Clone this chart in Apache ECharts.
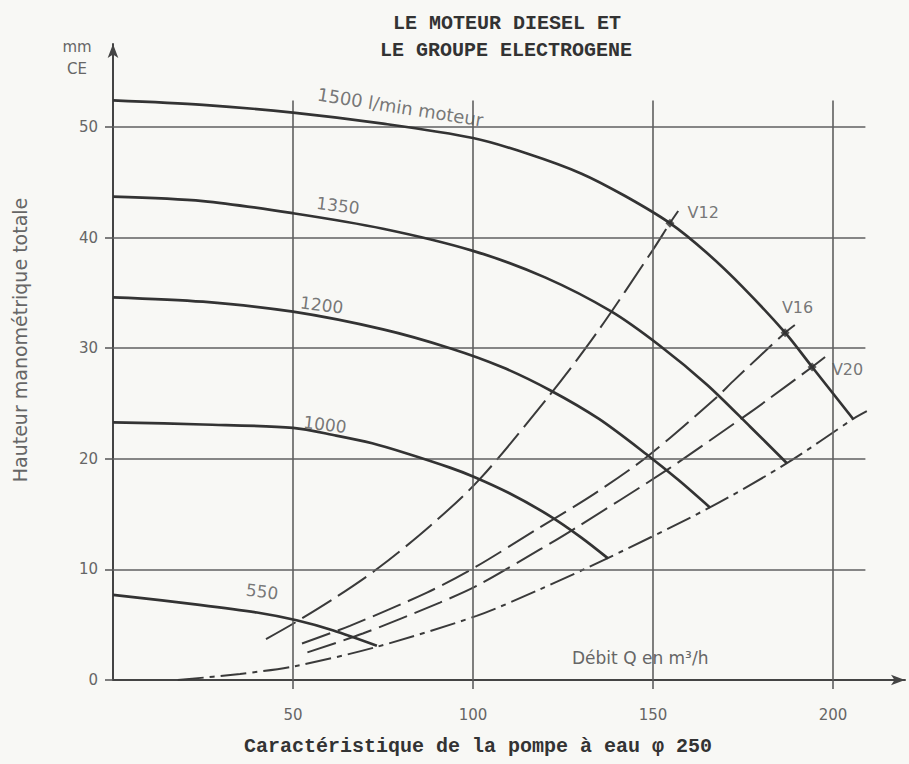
<!DOCTYPE html>
<html><head><meta charset="utf-8">
<script src="https://cdn.jsdelivr.net/npm/echarts@6/dist/echarts.min.js"></script>
<style>html,body{margin:0;padding:0;background:#f8f8f5;}#c{width:909px;height:764px;}</style>
</head><body><div id="c"></div>
<script>
// ---- data ----
const xTicks = [50, 100, 150, 200];
const yTicks = [0, 10, 20, 30, 40, 50];
const speedNames = ['1500 l/min moteur', '1350', '1200', '1000', '550'];
const h1500 = [[0,52.4],[25,52.0],[50,51.3],[75,50.3],[100,49.0],[115,47.6],[130,45.8],[142,43.8],[154.7,41.3],[165,38.6],[175,35.5],[186.7,31.4],[194.2,28.3],[205.6,23.6]];
const h1350 = [[0,43.7],[25,43.3],[50,42.2],[75,40.8],[100,38.8],[120,36.4],[138.5,33.3],[152,30.2],[165,26.7],[177,22.9],[187.2,19.6]];
const h1200 = [[0,34.6],[25,34.2],[50,33.3],[75,31.7],[93.6,30.0],[108,28.3],[121.4,26.2],[135,23.6],[148.6,20.3],[157,18.1],[165.8,15.6]];
const h1000 = [[0,23.3],[25,23.1],[50,22.8],[62,22.1],[72,21.4],[81.4,20.5],[93.6,19.2],[100,18.4],[110,16.9],[121.5,14.8],[130,12.9],[137.5,11.0]];
const h550  = [[0,7.7],[24,6.8],[40,6.1],[51,5.4],[61,4.5],[73.3,3.1]];
const vNames = ['V12', 'V16', 'V20'];
const v12 = [[42.5,3.7],[50.6,5.2],[62,7.5],[73.6,10.1],[88,13.9],[102,18.2],[121.4,25.8],[134.4,31.4],[150,38.9],[154.7,41.3],[157,42.4]];
const v16 = [[52.5,3.3],[65.8,4.9],[87.2,7.9],[100.6,10.2],[118.6,13.8],[134,16.9],[148.8,20.3],[167.8,25.6],[172.2,27.0],[186.7,31.4],[189.4,32.1]];
const v20 = [[54,2.5],[69.4,4.2],[90.8,7.0],[101,8.5],[118.6,11.8],[127.8,13.6],[153.9,19.0],[177,24.2],[181.7,25.3],[194.2,28.3],[197.8,29.2]];
const envelope = [[18,0],[35.3,0.55],[50.5,1.25],[73.3,3.0],[101,5.8],[118.6,8.2],[137.3,11.0],[165.8,15.6],[187.2,19.6],[205.6,23.6],[209.4,24.3]];
const vPoints = [[154.7,41.3],[186.7,31.4],[194.2,28.3]];

// ---- layout / style ----
const GX_END = 209, GY_END = 52.4;
const curveColor = '#333';
const sans = 'DejaVu Sans';

const speedSeries = [h1500, h1350, h1200, h1000, h550].map((d, i) => ({
  type: 'line', name: speedNames[i], data: d, smooth: 0.3, symbol: 'none',
  lineStyle: { color: curveColor, width: 2.7 }, z: 5, silent: true
}));
const vDash = [[34,8],[30,8],[30,8]];
const vSeries = [v12, v16, v20].map((d, i) => ({
  type: 'line', name: vNames[i], data: d, smooth: 0.3, symbol: 'none',
  lineStyle: { color: '#3a3a3a', width: 2, type: vDash[i] }, z: 4, silent: true
}));
const labelAnchors = [[79.8,51.8],[62.5,42.9],[58,33.9],[58.9,23.1],[41.4,8.0]];
const labelRot = [-9, -7, -7, -7, -7];
const vLabelAnchors = [[159.6,42.3],[185.8,33.7],[199.7,28.1]];

const option = {
  backgroundColor: '#f8f8f5',
  animation: false,
  grid: { left: 113, right: 4, top: 44, bottom: 84 },
  xAxis: {
    type: 'value', min: 0, max: 220,
    axisLine: { show: true, onZero: true, symbol: ['none','arrow'], symbolSize: [8,14], lineStyle: { color: '#444', width: 2 } },
    axisTick: { show: true, customValues: xTicks, length: 9, lineStyle: { color: '#555', width: 1.5 } },
    axisLabel: { customValues: xTicks, margin: 27, fontSize: 15, color: '#666', fontFamily: sans },
    splitLine: { show: false }
  },
  yAxis: {
    type: 'value', min: 0, max: 57.5,
    axisLine: { show: true, symbol: ['none','arrow'], symbolSize: [8,14], lineStyle: { color: '#444', width: 2 } },
    axisTick: { show: true, customValues: yTicks, length: 8, lineStyle: { color: '#555', width: 1.5 } },
    axisLabel: { customValues: yTicks, margin: 15, fontSize: 15, color: '#666', fontFamily: sans },
    splitLine: { show: false }
  },
  graphic: [
    { type: 'text', x: 507, y: 23, style: { text: 'LE MOTEUR DIESEL ET', font: 'bold 20px "Liberation Mono"', fill: '#333', textAlign: 'center', textVerticalAlign: 'middle' } },
    { type: 'text', x: 506, y: 50, style: { text: 'LE GROUPE ELECTROGENE', font: 'bold 20px "Liberation Mono"', fill: '#333', textAlign: 'center', textVerticalAlign: 'middle' } },
    { type: 'text', x: 478, y: 746, style: { text: 'Caractéristique de la pompe à eau φ 250', font: 'bold 20px "Liberation Mono"', fill: '#333', textAlign: 'center', textVerticalAlign: 'middle' } },
    { type: 'text', x: 77, y: 47, style: { text: 'mm', font: '15px "DejaVu Sans"', fill: '#666', textAlign: 'center', textVerticalAlign: 'middle' } },
    { type: 'text', x: 77, y: 69, style: { text: 'CE', font: '15px "DejaVu Sans"', fill: '#666', textAlign: 'center', textVerticalAlign: 'middle' } },
    { type: 'text', x: 20, y: 340, rotation: Math.PI / 2, style: { text: 'Hauteur manométrique totale', font: '19px "DejaVu Sans"', fill: '#666', textAlign: 'center', textVerticalAlign: 'middle' } },
    { type: 'text', x: 572, y: 658, style: { text: 'Débit Q en m³/h', font: '17px "DejaVu Sans"', fill: '#666', textAlign: 'left', textVerticalAlign: 'middle' } }
  ],
  series: [
    {
      type: 'line', data: [], silent: true, z: 2,
      markLine: {
        silent: true, symbol: ['none','none'], label: { show: false }, animation: false,
        lineStyle: { type: 'solid', color: '#606060', width: 1.6 },
        data: yTicks.filter(v => v > 0).map(v => [{ coord: [0, v] }, { coord: [GX_END, v] }])
          .concat(xTicks.map(v => [{ coord: [v, 0] }, { coord: [v, GY_END] }]))
      }
    },
    ...speedSeries,
    ...vSeries,
    {
      type: 'line', name: 'enveloppe', data: envelope, smooth: 0.3, symbol: 'none', silent: true, z: 4,
      lineStyle: { color: '#3a3a3a', width: 2, type: [26,6,5,6] }
    },
    {
      type: 'scatter', data: vPoints, symbol: 'diamond', symbolSize: 9, z: 6, silent: true,
      itemStyle: { color: '#333' }
    },
    {
      type: 'scatter', symbolSize: 0, z: 7, silent: true,
      data: speedNames.map((n, i) => ({ value: labelAnchors[i], name: n, label: { rotate: labelRot[i], fontSize: i === 0 ? 18 : 17 } })),
      label: { show: true, position: 'inside', formatter: '{b}', color: '#555', fontFamily: sans }
    },
    {
      type: 'scatter', symbolSize: 0, z: 7, silent: true,
      data: vNames.map((n, i) => ({ value: vLabelAnchors[i], name: n })),
      label: { show: true, position: 'right', distance: 0, formatter: '{b}', fontSize: 16, color: '#555', fontFamily: sans }
    }
  ]
};
const chart = echarts.init(document.getElementById('c'), null, { renderer: 'svg' });
chart.setOption(option);
</script>
</body></html>
